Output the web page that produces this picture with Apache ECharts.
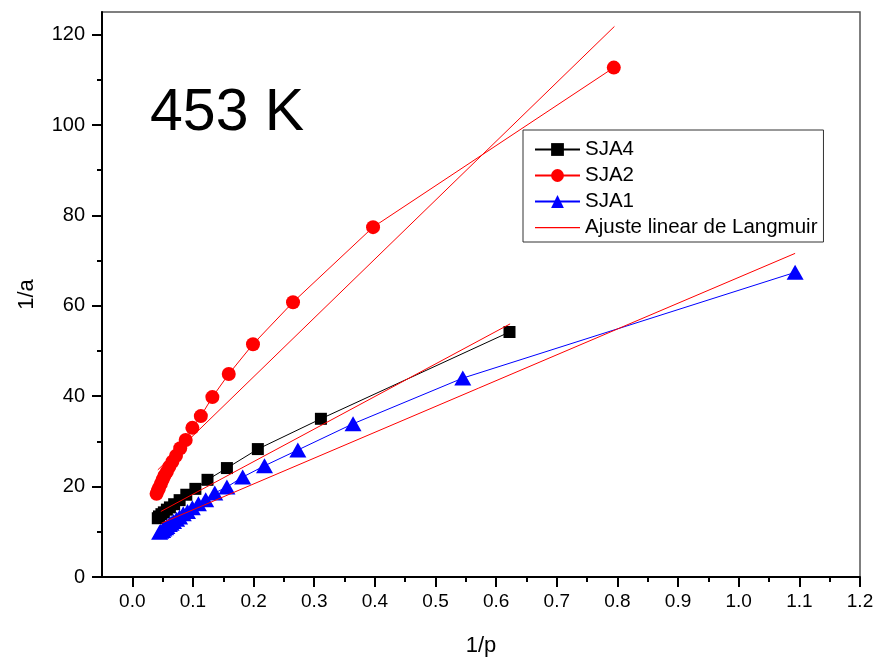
<!DOCTYPE html>
<html>
<head>
<meta charset="utf-8">
<script src="https://cdn.jsdelivr.net/npm/echarts@6/dist/echarts.min.js"></script>
<style>
  html, body { margin: 0; padding: 0; background: #fff; }
  #chart { width: 880px; height: 658px; }
</style>
</head>
<body>
<div id="chart"></div>
<script>
// ---- data ----
const sja4X = [0.622, 0.311, 0.207, 0.156, 0.124, 0.104, 0.089, 0.078, 0.069, 0.062, 0.057, 0.052, 0.048, 0.044, 0.042];
const sja4Y = [54.2, 35.0, 28.3, 24.1, 21.5, 19.5, 18.2, 17.0, 16.1, 15.4, 14.9, 14.3, 13.9, 13.4, 13.0];

const sja2X = [0.794, 0.397, 0.265, 0.199, 0.159, 0.132, 0.113, 0.099, 0.088, 0.079, 0.072, 0.066, 0.061, 0.057, 0.053, 0.050, 0.047, 0.044, 0.042, 0.040];
const sja2Y = [112.7, 77.4, 60.8, 51.5, 44.9, 39.8, 35.6, 33.0, 30.3, 28.5, 26.8, 25.5, 24.4, 23.3, 22.4, 21.5, 20.6, 19.7, 19.1, 18.4];

const sja1X = [1.093, 0.545, 0.364, 0.273, 0.218, 0.182, 0.156, 0.136, 0.121, 0.109, 0.099, 0.091, 0.084, 0.078, 0.073, 0.068, 0.064, 0.061, 0.057, 0.055, 0.052, 0.050, 0.047, 0.045];
const sja1Y = [67.4, 44.0, 33.9, 28.1, 24.6, 22.1, 19.9, 18.6, 17.1, 16.2, 15.3, 14.5, 14.0, 13.3, 12.8, 12.3, 11.9, 11.6, 11.2, 10.9, 10.6, 10.3, 10.1, 9.9];

// Langmuir linear fit lines (end points)
const fitSJA4X = [0.047, 0.623];
const fitSJA4Y = [14.5, 56.0];
const fitSJA2X = [0.042, 0.795];
const fitSJA2Y = [23.7, 121.8];
const fitSJA1X = [0.048, 1.093];
const fitSJA1Y = [11.9, 71.6];

const xTicks = [0, 0.1, 0.2, 0.3, 0.4, 0.5, 0.6, 0.7, 0.8, 0.9, 1.0, 1.1, 1.2];
const xMinorTicks = [0.05, 0.15, 0.25, 0.35, 0.45, 0.55, 0.65, 0.75, 0.85, 0.95, 1.05, 1.15];
const yTicks = [0, 20, 40, 60, 80, 100, 120];
const yMinorTicks = [10, 30, 50, 70, 90, 110];

const seriesNames = ['SJA4', 'SJA2', 'SJA1', 'Ajuste linear de Langmuir'];
const titleText = '453 K';

function zip(xs, ys) { return xs.map((x, i) => [x, ys[i]]); }

const FONT = 'Liberation Sans, Arial, sans-serif';
const chart = echarts.init(document.getElementById('chart'), null, { renderer: 'canvas' });

const fitStyle = { color: '#ff0000', width: 1 };
// thin horizontal line icon (with invisible corner specks to keep a 45x16 box)
const lineIcon = 'path://M0,0L0.01,0L0.01,0.01Z M0,7.5L45,7.5L45,8.7L0,8.7Z M44.99,16L45,16L45,15.99Z';

chart.setOption({
  backgroundColor: '#ffffff',
  animation: false,
  grid: {
    left: 102, right: 20, top: 12, bottom: 81,
    outerBoundsMode: 'none', containLabel: false,
    show: true, borderColor: '#555', borderWidth: 1.5, backgroundColor: 'transparent'
  },
  legend: {
    orient: 'vertical',
    left: 523, top: 130,
    data: [
      { name: seriesNames[0] },
      { name: seriesNames[1] },
      { name: seriesNames[2] },
      { name: seriesNames[3], icon: lineIcon,
        itemStyle: { color: '#ff0000', borderColor: '#ff0000', borderWidth: 0, opacity: 1 } }
    ],
    itemWidth: 45, itemHeight: 16, itemGap: 5,
    padding: [9, 6, 4, 11],
    borderColor: '#333', borderWidth: 1, backgroundColor: '#fff',
    textStyle: { fontFamily: FONT, fontSize: 20.5, color: '#000', lineHeight: 20 },
    selectedMode: false
  },
  graphic: [{
    type: 'text', x: 150, y: 114, z: 10,
    style: { text: titleText, font: '59px ' + FONT, fill: '#000', align: 'left', verticalAlign: 'middle' }
  }],
  xAxis: [{
    type: 'value', min: -0.05, max: 1.2,
    name: '1/p', nameLocation: 'middle', nameGap: 58,
    nameTextStyle: { fontFamily: FONT, fontSize: 22, color: '#000' },
    axisLine: { show: true, onZero: false, lineStyle: { color: '#000', width: 2 } },
    axisTick: { show: true, inside: false, length: 10, customValues: xTicks, lineStyle: { color: '#000', width: 2 } },
    axisLabel: { customValues: xTicks, margin: 15, fontFamily: FONT, fontSize: 19, color: '#000',
      formatter: v => v.toFixed(1) },
    splitLine: { show: false }
  }, {
    type: 'value', min: -0.05, max: 1.2, position: 'bottom',
    axisLine: { show: false, onZero: false },
    axisTick: { show: true, length: 5, customValues: xMinorTicks, lineStyle: { color: '#000', width: 2 } },
    axisLabel: { show: false },
    splitLine: { show: false }
  }],
  yAxis: [{
    type: 'value', min: 0, max: 125,
    name: '1/a', nameLocation: 'middle', nameGap: 64, nameRotate: 90,
    nameTextStyle: { fontFamily: FONT, fontSize: 22, color: '#000' },
    axisLine: { show: true, onZero: false, lineStyle: { color: '#000', width: 2 } },
    axisTick: { show: true, inside: false, length: 10, customValues: yTicks, lineStyle: { color: '#000', width: 2 } },
    axisLabel: { customValues: yTicks, margin: 17, fontFamily: FONT, fontSize: 20, color: '#000' },
    splitLine: { show: false }
  }, {
    type: 'value', min: 0, max: 125, position: 'left', offset: 0,
    axisLine: { show: false, onZero: false },
    axisTick: { show: true, length: 5, customValues: yMinorTicks, lineStyle: { color: '#000', width: 2 } },
    axisLabel: { show: false },
    splitLine: { show: false }
  }],
  series: [
    {
      name: 'SJA4', type: 'line', data: zip(sja4X, sja4Y),
      symbol: 'rect', symbolSize: 12,
      itemStyle: { color: '#000' }, lineStyle: { color: '#000', width: 1 }, z: 3
    },
    {
      name: 'SJA2', type: 'line', data: zip(sja2X, sja2Y),
      symbol: 'circle', symbolSize: 14,
      itemStyle: { color: '#ff0000' }, lineStyle: { color: '#ff0000', width: 1 }, z: 3
    },
    {
      name: 'SJA1', type: 'line', data: zip(sja1X, sja1Y),
      symbol: 'triangle', symbolSize: [17, 15],
      itemStyle: { color: '#0000ff' }, lineStyle: { color: '#0000ff', width: 1 }, z: 3
    },
    {
      name: 'Ajuste linear de Langmuir', type: 'line', data: zip(fitSJA4X, fitSJA4Y),
      symbol: 'none', itemStyle: { color: '#ff0000' }, lineStyle: fitStyle, z: 4
    },
    {
      name: 'Ajuste linear de Langmuir', type: 'line', data: zip(fitSJA2X, fitSJA2Y),
      symbol: 'none', itemStyle: { color: '#ff0000' }, lineStyle: fitStyle, z: 4
    },
    {
      name: 'Ajuste linear de Langmuir', type: 'line', data: zip(fitSJA1X, fitSJA1Y),
      symbol: 'none', itemStyle: { color: '#ff0000' }, lineStyle: fitStyle, z: 4
    }
  ]
});
</script>
</body>
</html>
